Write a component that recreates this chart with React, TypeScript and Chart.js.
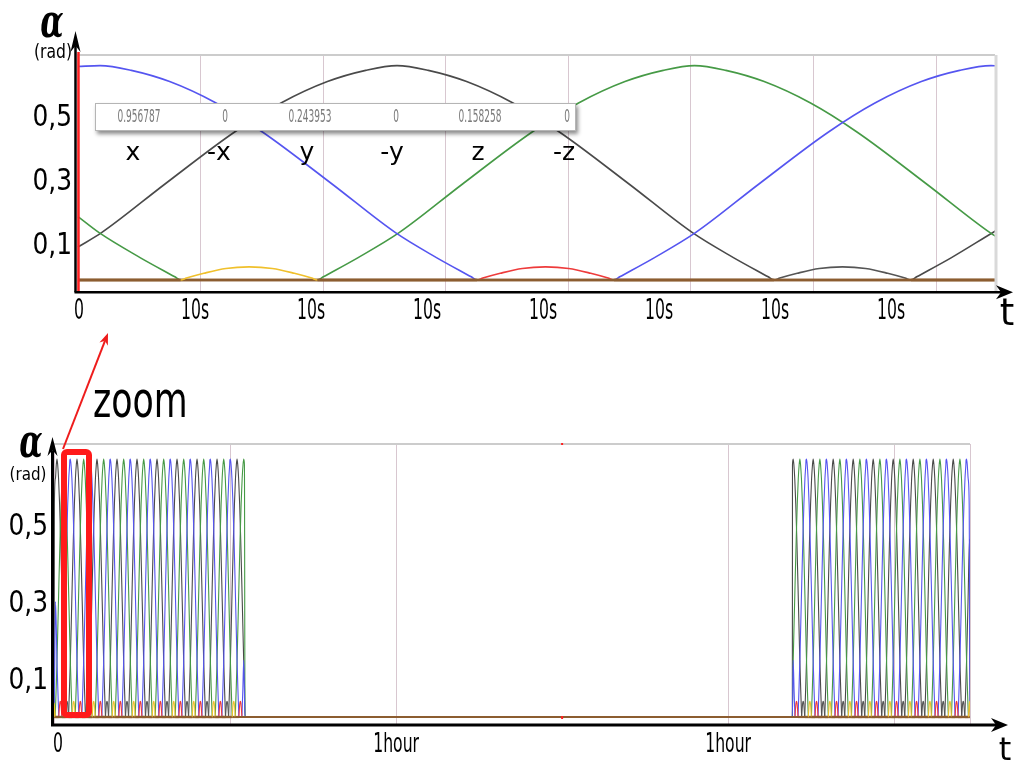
import React, { useEffect, useRef } from 'react';
import { Chart, registerables } from 'chart.js';

Chart.register(...registerables);

type P = [number, number];

// ---------- Top (zoomed) chart: time in seconds, angle in rad ----------
const xValues: P[] = [[0, 0.667], [1.9, 0.670], [4.6, 0.655], [7.9, 0.62], [11.9, 0.553], [15.9, 0.4625], [21.9, 0.3], [27.4, 0.147], [30.9, 0.07], [33.9, 0.01], [34.4, 0], [46.2, 0], [46.7, 0.01], [49.7, 0.07], [53.2, 0.147], [58.7, 0.3], [64.7, 0.4625], [68.7, 0.553], [72.7, 0.62], [76, 0.655], [78.7, 0.670], [79.4, 0.669]];
const minusXValues: P[] = [[0, 0], [34.4, 0], [34.9, 0.006], [36.4, 0.021], [38.3, 0.036], [40.3, 0.041], [42.3, 0.036], [44.2, 0.021], [45.7, 0.006], [46.2, 0], [79.4, 0]];
const yValues: P[] = [[0, 0.103], [2, 0.147], [7.5, 0.3], [13.5, 0.4625], [17.5, 0.553], [21.5, 0.62], [24.8, 0.655], [27.5, 0.670], [30.2, 0.655], [33.5, 0.62], [37.5, 0.553], [41.5, 0.4625], [47.5, 0.3], [53, 0.147], [56.5, 0.07], [59.5, 0.01], [60, 0], [71.8, 0], [72.3, 0.01], [75.3, 0.07], [78.8, 0.147], [79.4, 0.16]];
const minusYValues: P[] = [[0, 0], [60, 0], [60.5, 0.006], [62, 0.021], [63.9, 0.036], [65.9, 0.041], [67.9, 0.036], [69.8, 0.021], [71.3, 0.006], [71.8, 0], [79.4, 0]];
const zValues: P[] = [[0, 0.198], [1.85, 0.147], [5.35, 0.07], [8.35, 0.01], [8.85, 0], [20.65, 0], [21.15, 0.01], [24.15, 0.07], [27.65, 0.147], [33.15, 0.3], [39.15, 0.4625], [43.15, 0.553], [47.15, 0.62], [50.45, 0.655], [53.15, 0.670], [55.85, 0.655], [59.15, 0.62], [63.15, 0.553], [67.15, 0.4625], [73.15, 0.3], [78.65, 0.147], [79.4, 0.13]];
const minusZValues: P[] = [[0, 0], [8.85, 0], [9.35, 0.006], [10.85, 0.021], [12.75, 0.036], [14.75, 0.041], [16.75, 0.036], [18.65, 0.021], [20.15, 0.006], [20.65, 0], [79.4, 0]];

const seriesNames = ['x', '-x', 'y', '-y', 'z', '-z'];
const legendValues = ['0.956787', '0', '0.243953', '0', '0.158258', '0'];

const topTickValues = [0, 10, 20, 30, 40, 50, 60, 70];
const topTickLabels = ['0', '10s', '10s', '10s', '10s', '10s', '10s', '10s'];
const yTickValues = [0.1, 0.3, 0.5];
const yTickLabels = ['0,1', '0,3', '0,5'];

// ---------- Bottom chart: time in minutes ----------
const bottomTickValues = [0, 60, 120];
const bottomTickLabels = ['0', '1hour', '1hour'];
const burstStarts = [-1.8, 131.6];
const burstEnds = [32.7, 163.7];
const burstFirstYPeak = [-1.27, 131.75];
const cycleSeconds = 76.8; // one rotation
const cycleMinutes = 3.615; // one rotation
const yPeakSecond = 27.5;
const cursorMinute = 90;

const TOP_X_MIN = -0.086, TOP_X_MAX = 79.05;
const TOP_G_MIN = -0.082, TOP_G_MAX = 74.8;
const TOP_Y_MIN = -0.0344, TOP_Y_MAX = 0.7031;
const BOT_X_MIN = -1.81, BOT_X_MAX = 163.7;
const BOT_Y_MIN = -0.0182, BOT_Y_MAX = 0.709;

const C = {
  x: '#5555f0', mx: '#ee3b3b', y: '#4a4a4a', my: '#555555', z: '#469a46', mz: '#f0c02c', base: '#8c5d30',
  grid: 'rgba(200,175,188,0.7)',
};

function toXY(src: P[]) {
  return src.map(([x, y]) => ({ x, y }));
}

// The long chart repeats the rotation shown in the zoomed chart during each burst
function repeatInBursts(src: P[]) {
  const out: { x: number; y: number }[] = [{ x: BOT_X_MIN, y: 0 }];
  for (let b = 0; b < burstStarts.length; b++) {
    const s = burstStarts[b], e = burstEnds[b], p0 = burstFirstYPeak[b];
    out.push({ x: s, y: 0 });
    const pts: { x: number; y: number }[] = [];
    const kMin = Math.floor((s - p0) / cycleMinutes) - 2;
    const kMax = Math.ceil((e - p0) / cycleMinutes) + 2;
    for (let k = kMin; k <= kMax; k++) {
      for (const [t, v] of src) {
        if (t >= cycleSeconds) continue;
        const bt = p0 + ((t + k * cycleSeconds - yPeakSecond) / cycleSeconds) * cycleMinutes;
        if (bt > s && bt < e) pts.push({ x: bt, y: v });
      }
    }
    pts.sort((a, c) => a.x - c.x);
    out.push(...pts, { x: e, y: 0 });
  }
  out.push({ x: BOT_X_MAX, y: 0 });
  return out;
}

function drawText(ctx: CanvasRenderingContext2D, s: string, x: number, y: number, font: string, sx: number,
  align: CanvasTextAlign, baseline: CanvasTextBaseline, color = '#000') {
  ctx.save();
  ctx.font = font;
  ctx.fillStyle = color;
  ctx.textAlign = align;
  ctx.textBaseline = baseline;
  ctx.translate(x, y);
  ctx.scale(sx, 1);
  ctx.fillText(s, 0, 0);
  ctx.restore();
}

function arrow(ctx: CanvasRenderingContext2D, x1: number, y1: number, x2: number, y2: number,
  head: number, halfW: number, color: string, width: number) {
  const ang = Math.atan2(y2 - y1, x2 - x1);
  const cs = Math.cos(ang), sn = Math.sin(ang);
  const bx = x2 - head * cs, by = y2 - head * sn;
  const nx = x2 - head * 0.7 * cs, ny = y2 - head * 0.7 * sn;
  ctx.save();
  ctx.strokeStyle = color;
  ctx.fillStyle = color;
  ctx.lineWidth = width;
  ctx.beginPath();
  ctx.moveTo(x1, y1);
  ctx.lineTo(nx, ny);
  ctx.stroke();
  ctx.beginPath();
  ctx.moveTo(x2, y2);
  ctx.lineTo(bx + halfW * sn, by - halfW * cs);
  ctx.lineTo(nx, ny);
  ctx.lineTo(bx - halfW * sn, by + halfW * cs);
  ctx.closePath();
  ctx.fill();
  ctx.restore();
}

function line(ctx: CanvasRenderingContext2D, x1: number, y1: number, x2: number, y2: number, color: string, w: number) {
  ctx.save();
  ctx.strokeStyle = color;
  ctx.lineWidth = w;
  ctx.beginPath();
  ctx.moveTo(x1, y1);
  ctx.lineTo(x2, y2);
  ctx.stroke();
  ctx.restore();
}

const baseSegment = (w: number) => ({
  borderColor: (c: any) => (c.p0.parsed.y === 0 && c.p1.parsed.y === 0 ? C.base : undefined),
  borderWidth: (c: any) => (c.p0.parsed.y === 0 && c.p1.parsed.y === 0 ? w : undefined),
});

function makeDatasets(transform: (s: P[]) => { x: number; y: number }[], w: number, baseW: number) {
  const neg = (label: string, src: P[], color: string) => ({
    label, data: transform(src), borderColor: color, borderWidth: w, pointRadius: 0,
    cubicInterpolationMode: 'monotone', segment: baseSegment(baseW), fill: false,
  });
  const pos = (label: string, src: P[], color: string) => ({
    label, data: transform(src), borderColor: color, borderWidth: w, pointRadius: 0,
    cubicInterpolationMode: 'monotone', fill: false,
  });
  return [
    neg(seriesNames[5], minusZValues, C.mz),
    neg(seriesNames[1], minusXValues, C.mx),
    neg(seriesNames[3], minusYValues, C.my),
    pos(seriesNames[0], xValues, C.x),
    pos(seriesNames[4], zValues, C.z),
    pos(seriesNames[2], yValues, C.y),
  ];
}

const topDecor = {
  id: 'topDecor',
  afterDatasetsDraw(chart: any) {
    const { ctx, chartArea: a, scales } = chart;
    const xs = scales.x, ys = scales.y;
    line(ctx, a.left, a.top, a.right, a.top, '#cccccc', 2);
    line(ctx, a.right + 1, a.top, a.right + 1, a.bottom, '#d9d9d9', 3);
    const cx = xs.getPixelForValue(0) + 0.5;
    line(ctx, cx, a.top - 3, cx, a.bottom, '#ff1f1f', 2.5);
    arrow(ctx, 75.5, 292.3, 75.5, 31, 21, 5, '#000', 2.5);
    arrow(ctx, 74.5, 292.3, 1013, 292.3, 17, 7, '#000', 2.5);
    yTickValues.forEach((v, i) => drawText(ctx, yTickLabels[i], 72, ys.getPixelForValue(v) - 2, '30px "DejaVu Sans"', 0.83, 'right', 'middle'));
    topTickValues.forEach((v, i) => drawText(ctx, topTickLabels[i], xs.getPixelForValue(v) + 1, 312, '28px "DejaVu Sans"', 0.56, 'center', 'middle'));
    drawText(ctx, 'α', 52, 37, 'italic bold 46px "DejaVu Serif"', 0.66, 'center', 'alphabetic');
    drawText(ctx, '(rad)', 53, 53, '20px "DejaVu Sans"', 0.78, 'center', 'middle');
    drawText(ctx, 't', 1007, 325, '37px "DejaVu Sans"', 1, 'center', 'alphabetic');
    // legend box
    ctx.save();
    ctx.shadowColor = 'rgba(0,0,0,0.45)';
    ctx.shadowBlur = 4;
    ctx.shadowOffsetX = 2;
    ctx.shadowOffsetY = 3;
    ctx.fillStyle = '#ffffff';
    ctx.fillRect(95, 103, 481, 28);
    ctx.restore();
    ctx.save();
    ctx.strokeStyle = '#b5b5b5';
    ctx.lineWidth = 1;
    ctx.strokeRect(95.5, 103.5, 480, 27);
    ctx.restore();
    const valX = [139, 225, 310, 396, 480, 567];
    const labX = [133, 219, 307, 392, 478, 564];
    legendValues.forEach((v, i) => drawText(ctx, v, valX[i], 117, '18px "DejaVu Sans"', 0.5, 'center', 'middle', '#7a7a7a'));
    seriesNames.forEach((n, i) => drawText(ctx, n, labX[i], 160, '25px "DejaVu Sans"', 1, 'center', 'alphabetic'));
  },
};

const bottomDecor = {
  id: 'bottomDecor',
  afterDatasetsDraw(chart: any) {
    const { ctx, chartArea: a, scales } = chart;
    const xs = scales.x, ys = scales.y;
    line(ctx, a.left, a.top, a.right, a.top, '#cccccc', 2);
    const cx = xs.getPixelForValue(cursorMinute);
    ctx.fillStyle = '#ff2020';
    ctx.fillRect(cx - 1, a.top - 1, 2, 2);
    ctx.fillRect(cx - 1, ys.getPixelForValue(0) - 1, 2, 3);
    arrow(ctx, 52.5, 395, 52.5, 107, 19, 5, '#000', 3);
    arrow(ctx, 51, 395, 1008, 395, 17, 7, '#000', 3);
    yTickValues.forEach((v, i) => drawText(ctx, yTickLabels[i], 48, ys.getPixelForValue(v) + 3, '30px "DejaVu Sans"', 0.83, 'right', 'middle'));
    bottomTickValues.forEach((v, i) => drawText(ctx, bottomTickLabels[i], xs.getPixelForValue(v) - (i === 0 ? 6 : 0), 415, '27px "DejaVu Sans"', 0.58, 'center', 'middle'));
    drawText(ctx, 'α', 31, 127, 'italic bold 46px "DejaVu Serif"', 0.66, 'center', 'alphabetic');
    drawText(ctx, '(rad)', 28, 145.5, '17px "DejaVu Sans"', 0.89, 'center', 'middle');
    drawText(ctx, 't', 1005, 430, '32px "DejaVu Sans"', 1, 'center', 'alphabetic');
    ctx.save();
    ctx.strokeStyle = '#ff1a1a';
    ctx.lineWidth = 6;
    ctx.lineJoin = 'round';
    ctx.beginPath();
    (ctx as any).roundRect ? (ctx as any).roundRect(64, 122, 25, 263, 3) : ctx.rect(64, 122, 25, 263);
    ctx.stroke();
    ctx.restore();
    arrow(ctx, 63, 119, 108, 3, 12, 4.5, '#ee1c1c', 2);
    drawText(ctx, 'zoom', 93, 87, '49px "DejaVu Sans"', 0.71, 'left', 'alphabetic');
  },
};

export default function App() {
  const topRef = useRef<HTMLCanvasElement>(null);
  const botRef = useRef<HTMLCanvasElement>(null);

  useEffect(() => {
    const top = new Chart(topRef.current as HTMLCanvasElement, {
      type: 'line',
      data: { datasets: makeDatasets(toXY, 1.6, 2.6) as any },
      options: {
        animation: false,
        responsive: false,
        maintainAspectRatio: false,
        layout: { padding: { left: 77, right: 19, top: 55, bottom: 39 } },
        plugins: { legend: { display: false }, tooltip: { enabled: false } },
        elements: { point: { radius: 0 } },
        scales: {
          x: { type: 'linear', display: false, min: TOP_X_MIN, max: TOP_X_MAX },
          xg: {
            type: 'linear', axis: 'x', position: 'bottom', min: TOP_G_MIN, max: TOP_G_MAX,
            ticks: { display: false, stepSize: 10 },
            grid: { color: C.grid, lineWidth: 1, drawTicks: false },
            border: { display: false },
          },
          y: { type: 'linear', display: false, min: TOP_Y_MIN, max: TOP_Y_MAX },
        },
      } as any,
      plugins: [topDecor],
    });

    const bottom = new Chart(botRef.current as HTMLCanvasElement, {
      type: 'line',
      data: { datasets: makeDatasets(repeatInBursts, 1.1, 2.2) as any },
      options: {
        animation: false,
        responsive: false,
        maintainAspectRatio: false,
        layout: { padding: { left: 54, right: 44, top: 114, bottom: 40 } },
        plugins: { legend: { display: false }, tooltip: { enabled: false } },
        elements: { point: { radius: 0 } },
        scales: {
          x: {
            type: 'linear', min: BOT_X_MIN, max: BOT_X_MAX,
            ticks: { display: false, stepSize: 30 },
            grid: {
              drawTicks: false, lineWidth: 1,
              color: (c: any) => (c.tick && c.tick.value === cursorMinute ? 'rgba(0,0,0,0)' : C.grid),
            },
            border: { display: false },
          },
          y: { type: 'linear', display: false, min: BOT_Y_MIN, max: BOT_Y_MAX },
        },
      } as any,
      plugins: [bottomDecor],
    });

    return () => {
      top.destroy();
      bottom.destroy();
    };
  }, []);

  return (
    <div style={{ position: 'absolute', left: 0, top: 0, width: 1014, height: 764, background: '#ffffff', overflow: 'hidden' }}>
      <canvas ref={topRef} width={1014} height={330} style={{ position: 'absolute', left: 0, top: 0 }} />
      <canvas ref={botRef} width={1014} height={434} style={{ position: 'absolute', left: 0, top: 330 }} />
    </div>
  );
}
